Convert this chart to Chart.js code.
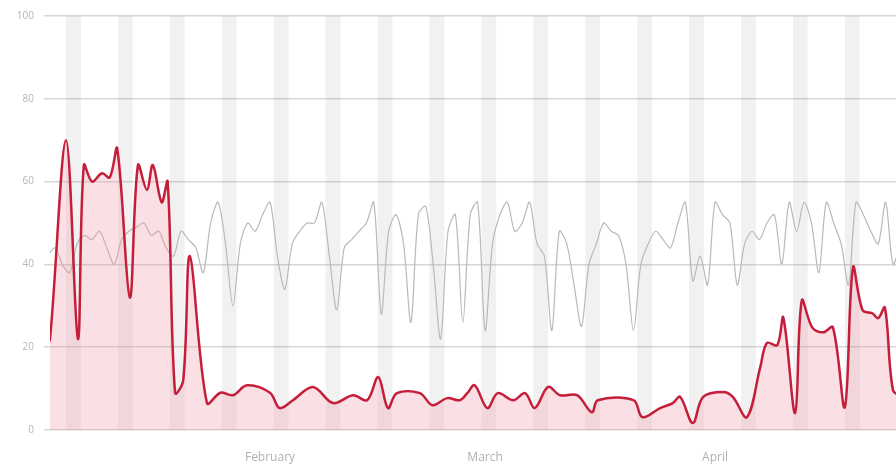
<!DOCTYPE html>
<html>
<head>
<meta charset="utf-8">
<script src="https://cdn.jsdelivr.net/npm/chart.js@4"></script>
<style>
  html, body { margin: 0; padding: 0; background: #fff; }
  #wrap { width: 896px; height: 466px; }
</style>
</head>
<body>
<div id="wrap"><canvas id="chart" width="896" height="466"></canvas></div>
<script>
// x values are days since 1 Jan 2020
const redDays = [0.8, 1.34, 3.5, 5.1, 5.9, 7.0, 8.35, 9.4, 10.4, 12.1, 13.2, 14.4, 15.2, 16.4, 17.2, 18.2, 19.3, 20.2,
    22.5, 24.3, 26.0, 27.9, 31.0, 32.3, 34.1, 36.8, 39.5, 42.2, 44.1, 45.6, 46.9, 48.1, 51.2, 52.9, 54.9, 56.6, 57.6,
    58.6, 60.3, 61.7, 63.8, 65.4, 66.7, 68.5, 70.1, 72.4, 74.4, 75.2, 80.0, 81.2, 83.6, 85.3, 86.3, 88.0, 89.4, 92.1,
    93.4, 95.3, 97.1, 98.0, 99.4, 100.2, 101.8, 102.7, 104.1, 105.6, 106.9, 108.5, 109.6, 110.9, 112.2, 113.0, 113.9,
    115.0, 116.3];
const redValues = [20, 22, 70, 22, 64, 60, 62, 61, 68, 32, 64, 58, 64, 55, 60, 9, 12, 42,
    6.5, 9, 8.4, 10.8, 9, 5.3, 7.2, 10.4, 6.5, 8.4, 7.2, 12.8, 5.3, 8.9, 8.9, 6, 7.7, 7.2, 8.9,
    10.8, 5.3, 8.9, 7.2, 8.9, 5.3, 10.4, 8.4, 8.4, 4.3, 7.2, 7.2, 3.1, 5.3, 6.5, 8, 1.7, 8, 9.2,
    8, 3.1, 15.2, 21, 20.5, 27.2, 4.1, 31.3, 24.8, 23.6, 24.8, 5.5, 39.3, 28.9, 28.2, 27, 29.6,
    9.6, 8];

// one value per day, starting at day 1
const grayStartDay = 1;
const grayValues = [42, 44, 40, 38, 45, 47, 46, 48, 44, 40, 46, 48, 49, 50, 47, 48, 44, 42, 48, 46,
    44, 38, 50, 55, 45, 30, 45, 50, 48, 52, 55, 42, 34, 45, 48, 50, 50, 55, 42, 29,
    44, 46, 48, 50, 55, 28, 48, 52, 45, 26, 52, 54, 40, 22, 48, 52, 26, 52, 55, 24,
    45, 52, 55, 48, 50, 55, 45, 42, 24, 48, 45, 35, 25, 40, 45, 50, 48, 47, 40, 24,
    40, 45, 48, 46, 44, 50, 55, 36, 42, 35, 55, 52, 50, 35, 45, 48, 46, 50, 52, 40,
    55, 48, 55, 50, 38, 55, 50, 45, 35, 55, 52, 48, 45, 55, 40, 45];

const monthDays = [31, 60, 91];
const monthLabels = ['February', 'March', 'April'];
const yTicks = [0, 20, 40, 60, 80, 100];
const weekendStarts = [3, 10, 17, 24, 31, 38, 45, 52, 59, 66, 73, 80, 87, 94, 101, 108, 115];

const redPoints = redDays.map((d, i) => ({ x: d, y: redValues[i] }));
const grayPoints = grayValues.map((v, i) => ({ x: grayStartDay + i, y: v }));

// shade weekends behind the lines
const weekendBands = {
    id: 'weekendBands',
    beforeDatasetsDraw(chart) {
        const { ctx, chartArea, scales } = chart;
        ctx.save();
        ctx.beginPath();
        ctx.rect(chartArea.left, chartArea.top, chartArea.right - chartArea.left, chartArea.bottom - chartArea.top);
        ctx.clip();
        ctx.fillStyle = 'rgba(0, 0, 0, 0.055)';
        weekendStarts.forEach(d => {
            const x1 = scales.x.getPixelForValue(d + 0.5);
            const x2 = scales.x.getPixelForValue(d + 2.5);
            ctx.fillRect(x1, chartArea.top, x2 - x1, chartArea.bottom - chartArea.top);
        });
        ctx.restore();
    }
};

new Chart(document.getElementById('chart').getContext('2d'), {
    type: 'line',
    data: {
        datasets: [{
            label: 'Red',
            data: redPoints,
            borderColor: 'rgb(196, 30, 58)',
            backgroundColor: 'rgba(240, 150, 165, 0.3)',
            borderWidth: 2.5,
            fill: 'origin',
            tension: 0.35,
            pointRadius: 0
        }, {
            label: 'Gray',
            data: grayPoints,
            borderColor: 'rgb(185, 185, 185)',
            borderWidth: 1.2,
            fill: false,
            tension: 0.3,
            pointRadius: 0
        }]
    },
    options: {
        responsive: false,
        animation: false,
        layout: { padding: { top: 15, right: 0, bottom: 0, left: 0 } },
        plugins: {
            legend: { display: false },
            tooltip: { enabled: false }
        },
        scales: {
            x: {
                type: 'linear',
                min: 1.34,
                max: 115.4,
                afterBuildTicks: scale => { scale.ticks = monthDays.map(v => ({ value: v })); },
                afterFit: scale => { scale.height = 36; },
                ticks: {
                    autoSkip: false,
                    maxRotation: 0,
                    padding: 12,
                    color: '#b0b0b0',
                    font: { family: 'Open Sans', size: 12 },
                    callback: v => monthLabels[monthDays.indexOf(v)]
                },
                grid: { display: false },
                border: { display: false }
            },
            y: {
                min: 0,
                max: 100,
                afterBuildTicks: scale => { scale.ticks = yTicks.map(v => ({ value: v })); },
                afterFit: scale => { scale.width = 50; },
                ticks: {
                    padding: 10,
                    color: '#b5b5b5',
                    font: { family: 'Open Sans', size: 10 }
                },
                grid: {
                    color: 'rgba(0, 0, 0, 0.16)',
                    lineWidth: 1.5,
                    drawTicks: true,
                    tickLength: 6
                },
                border: { display: false }
            }
        }
    },
    plugins: [weekendBands]
});
</script>
</body>
</html>
